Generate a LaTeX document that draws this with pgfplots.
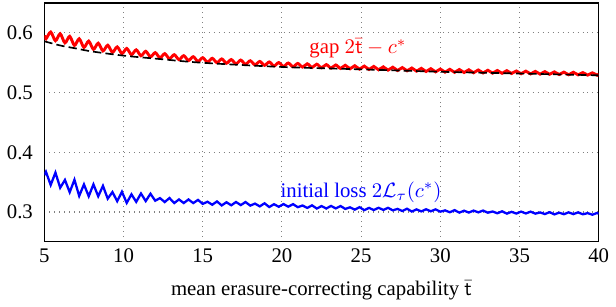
\documentclass[border=0pt]{standalone}
\usepackage{fontspec}
\setmainfont{Liberation Serif}
\usepackage{pgfplots}
\usepackage{pgfplotstable}
\pgfplotsset{compat=1.18}
\pgfplotstableread{
x r b
5.0 0.5960 0.3620
5.1 0.5900 0.3674
5.4 0.6015 0.3453
5.7 0.5870 0.3660
6.0 0.5985 0.3406
6.3 0.5834 0.3537
6.6 0.5943 0.3332
6.9 0.5792 0.3540
7.2 0.5902 0.3269
7.5 0.5758 0.3462
7.8 0.5863 0.3263
8.1 0.5726 0.3463
8.4 0.5828 0.3263
8.7 0.5699 0.3438
9.0 0.5794 0.3224
9.3 0.5676 0.3334
9.6 0.5766 0.3181
9.9 0.5655 0.3338
10.2 0.5740 0.3153
10.5 0.5637 0.3296
10.8 0.5717 0.3170
11.1 0.5618 0.3310
11.4 0.5693 0.3183
11.7 0.5600 0.3306
12.0 0.5670 0.3189
12.3 0.5583 0.3233
12.6 0.5653 0.3167
12.9 0.5568 0.3234
13.2 0.5636 0.3150
13.5 0.5553 0.3211
13.8 0.5619 0.3150
14.1 0.5538 0.3210
14.4 0.5602 0.3150
14.7 0.5523 0.3203
15.0 0.5585 0.3136
15.3 0.5510 0.3172
15.6 0.5575 0.3122
15.9 0.5502 0.3177
16.2 0.5565 0.3110
16.5 0.5493 0.3163
16.8 0.5554 0.3113
17.1 0.5483 0.3168
17.4 0.5545 0.3116
17.7 0.5475 0.3167
18.0 0.5534 0.3107
18.3 0.5465 0.3141
18.6 0.5523 0.3094
18.9 0.5457 0.3146
19.2 0.5514 0.3083
19.5 0.5447 0.3131
19.8 0.5503 0.3088
20.1 0.5439 0.3133
20.4 0.5496 0.3089
20.7 0.5433 0.3132
21.0 0.5489 0.3081
21.3 0.5428 0.3109
21.6 0.5483 0.3068
21.9 0.5422 0.3112
22.2 0.5477 0.3058
22.5 0.5416 0.3099
22.8 0.5470 0.3059
23.1 0.5411 0.3102
23.4 0.5464 0.3060
23.7 0.5405 0.3100
24.0 0.5458 0.3052
24.3 0.5400 0.3078
24.6 0.5451 0.3040
24.9 0.5394 0.3081
25.2 0.5445 0.3031
25.5 0.5388 0.3069
25.8 0.5439 0.3033
26.1 0.5383 0.3071
26.4 0.5432 0.3035
26.7 0.5377 0.3070
27.0 0.5426 0.3028
27.3 0.5371 0.3052
27.6 0.5420 0.3017
27.9 0.5366 0.3055
28.2 0.5413 0.3008
28.5 0.5360 0.3044
28.8 0.5407 0.3010
29.1 0.5354 0.3046
29.4 0.5401 0.3012
29.7 0.5348 0.3044
30.0 0.5395 0.3006
30.3 0.5343 0.3027
30.6 0.5391 0.2996
30.9 0.5340 0.3031
31.2 0.5387 0.2990
31.5 0.5337 0.3022
31.8 0.5383 0.2991
32.1 0.5333 0.3024
32.4 0.5380 0.2994
32.7 0.5330 0.3025
33.0 0.5375 0.2988
33.3 0.5327 0.3009
33.6 0.5371 0.2979
33.9 0.5324 0.3012
34.2 0.5368 0.2973
34.5 0.5321 0.3003
34.8 0.5363 0.2974
35.1 0.5317 0.3007
35.4 0.5360 0.2976
35.7 0.5314 0.3006
36.0 0.5356 0.2973
36.3 0.5310 0.2993
36.6 0.5352 0.2966
36.9 0.5308 0.2997
37.2 0.5348 0.2960
37.5 0.5304 0.2989
37.8 0.5344 0.2963
38.1 0.5300 0.2994
38.4 0.5341 0.2965
38.7 0.5298 0.2994
39.0 0.5336 0.2962
39.3 0.5294 0.2981
39.6 0.5332 0.2955
39.9 0.5291 0.2984
40.0 0.5310 0.2970
}\datatable
\pgfplotstableread{
x d
5 0.586
6 0.579
7 0.574
8 0.569
10 0.562
12 0.557
15 0.550
20 0.543
25 0.539
30 0.535
35 0.532
40 0.529
}\dashtable
\begin{document}
\begin{tikzpicture}
\begin{axis}[
  scale only axis,
  width=267pt, height=115pt,
  xmin=5, xmax=40, ymin=0.25, ymax=0.65,
  xtick={5,10,...,40},
  ytick={0.3,0.4,0.5,0.6},
  yticklabel style={/pgf/number format/fixed,/pgf/number format/precision=1, xshift=-2pt},
  /pgf/number format/assume math mode=true,
  grid=major,
  grid style={dotted, gray, line width=0.5pt},
  major tick length=0pt,
  axis line style={line width=0.6pt},
  xlabel={mean erasure-correcting capability $\bar{\mathsf{t}}$},
  xlabel style={yshift=-1.5pt},
]
\addplot[red, line width=1.4pt, smooth] table[x=x,y=r]{\datatable};
\addplot[black, line width=0.8pt, dash pattern=on 4pt off 2pt, smooth] table[x=x,y=d]{\dashtable};
\addplot[blue, line width=1.1pt] table[x=x,y=b]{\datatable};
\node[red] at (axis cs:24.8,0.574) {gap $2\bar{\mathsf{t}}-c^*$};
\node[blue] at (axis cs:25,0.333) {initial\ loss\ $2\mathcal{L}_\tau(c^*)$};
\end{axis}
\path (current axis.north) ++(0,1.5pt) coordinate (topmargin);
\end{tikzpicture}
\end{document}
